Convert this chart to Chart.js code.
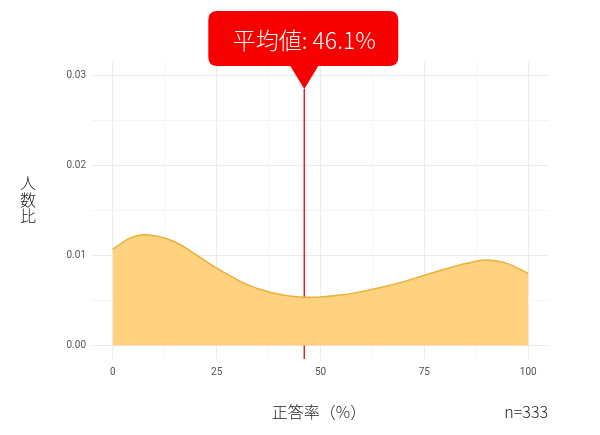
<!DOCTYPE html>
<html>
<head>
<meta charset="utf-8">
<script src="https://cdn.jsdelivr.net/npm/chart.js@4/dist/chart.umd.min.js"></script>
<style>
  html, body { margin: 0; padding: 0; background: #fff; }
  #chart { display: block; }
</style>
</head>
<body>
<canvas id="chart" width="600" height="435"></canvas>
<script>
// score distribution (density)
const scores = [0, 5, 10, 15, 20, 25, 30, 35, 40, 45, 50, 55, 60, 65, 70, 75, 80, 85, 90, 95, 100];
const density = [0.0107, 0.0121, 0.0122, 0.0115, 0.0101, 0.0086, 0.0073, 0.0063, 0.0057, 0.0054,
                 0.0054, 0.0056, 0.0060, 0.0065, 0.0071, 0.0078, 0.0085, 0.0091, 0.0095, 0.0091, 0.0080];
const meanScore = 46.1;
const meanLineY = [-0.0015, 0.0285];
const xTicks = [0, 12.5, 25, 37.5, 50, 62.5, 75, 87.5, 100];
const yTicks = [0, 0.005, 0.01, 0.015, 0.02, 0.025, 0.03];
const xTitle = '正答率（%）';
const yTitle = ['人', '数', '比'];
const sampleText = 'n=333';
const meanLabel = '平均値: ' + meanScore + '%';

const jp = '"Noto Sans CJK JP", "Noto Sans", sans-serif';

// draws axis titles, n= and the mean callout
const annotations = {
  id: 'annotations',
  afterDraw(chart) {
    const ctx = chart.ctx;
    const x = chart.scales.x;
    const y = chart.scales.y;
    ctx.save();
    ctx.fillStyle = '#222';
    ctx.font = '300 16px ' + jp;
    ctx.textBaseline = 'middle';
    ctx.textAlign = 'center';
    ctx.fillText(xTitle, 319, 412);
    ctx.textAlign = 'right';
    ctx.fillText(sampleText, 548, 412);
    ctx.textAlign = 'center';
    yTitle.forEach((c, i) => ctx.fillText(c, 28, 183 + i * 16.5));

    // callout
    const mx = x.getPixelForValue(meanScore);
    const tip = y.getPixelForValue(meanLineY[1]);
    const bx = mx - 96, by = 11, bw = 190, bh = 55, r = 9;
    ctx.fillStyle = '#f80000';
    ctx.beginPath();
    ctx.moveTo(bx + r, by);
    ctx.lineTo(bx + bw - r, by);
    ctx.quadraticCurveTo(bx + bw, by, bx + bw, by + r);
    ctx.lineTo(bx + bw, by + bh - r);
    ctx.quadraticCurveTo(bx + bw, by + bh, bx + bw - r, by + bh);
    ctx.lineTo(mx + 14, by + bh);
    ctx.lineTo(mx, tip);
    ctx.lineTo(mx - 14, by + bh);
    ctx.lineTo(bx + r, by + bh);
    ctx.quadraticCurveTo(bx, by + bh, bx, by + bh - r);
    ctx.lineTo(bx, by + r);
    ctx.quadraticCurveTo(bx, by, bx + r, by);
    ctx.closePath();
    ctx.fill();
    ctx.fillStyle = '#fff';
    ctx.font = '300 23px ' + jp;
    ctx.textAlign = 'center';
    ctx.fillText(meanLabel, mx, by + 29);
    ctx.restore();
  }
};

new Chart(document.getElementById('chart'), {
  type: 'line',
  data: {
    datasets: [{
      data: scores.map((s, i) => ({ x: s, y: density[i] })),
      borderColor: '#e9b13a',
      backgroundColor: '#fed27f',
      borderWidth: 1.5,
      fill: 'origin',
      tension: 0.4,
      pointRadius: 0
    }, {
      data: meanLineY.map(v => ({ x: meanScore, y: v })),
      borderColor: '#d9261c',
      borderWidth: 1.5,
      fill: false,
      pointRadius: 0
    }]
  },
  options: {
    responsive: false,
    animation: false,
    layout: { padding: { left: 0, right: 51, top: 62, bottom: 0 } },
    plugins: { legend: { display: false }, tooltip: { enabled: false } },
    scales: {
      x: {
        type: 'linear',
        min: -5,
        max: 105,
        afterBuildTicks: s => { s.ticks = xTicks.map(v => ({ value: v })); },
        afterFit: s => { s.height = 76; },
        border: { display: false },
        grid: {
          drawTicks: false,
          color: c => (c.tick && c.tick.value % 25 === 0) ? '#ebebeb' : '#f4f4f4'
        },
        ticks: {
          padding: 7,
          maxRotation: 0,
          autoSkip: false,
          color: '#555',
          font: { family: 'Roboto', size: 10 },
          callback: v => v % 25 === 0 ? String(v) : ''
        }
      },
      y: {
        min: -0.0015,
        max: 0.0315,
        afterBuildTicks: s => { s.ticks = yTicks.map(v => ({ value: v })); },
        afterFit: s => { s.width = 92; },
        border: { display: false },
        grid: {
          drawTicks: false,
          color: c => (c.tick && Math.round(c.tick.value * 1000) % 10 === 0) ? '#ebebeb' : '#f4f4f4'
        },
        ticks: {
          padding: 6,
          autoSkip: false,
          color: '#555',
          font: { family: 'Roboto', size: 10 },
          callback: v => Math.round(v * 1000) % 10 === 0 ? v.toFixed(2) : ''
        }
      }
    }
  },
  plugins: [annotations]
});
</script>
</body>
</html>
